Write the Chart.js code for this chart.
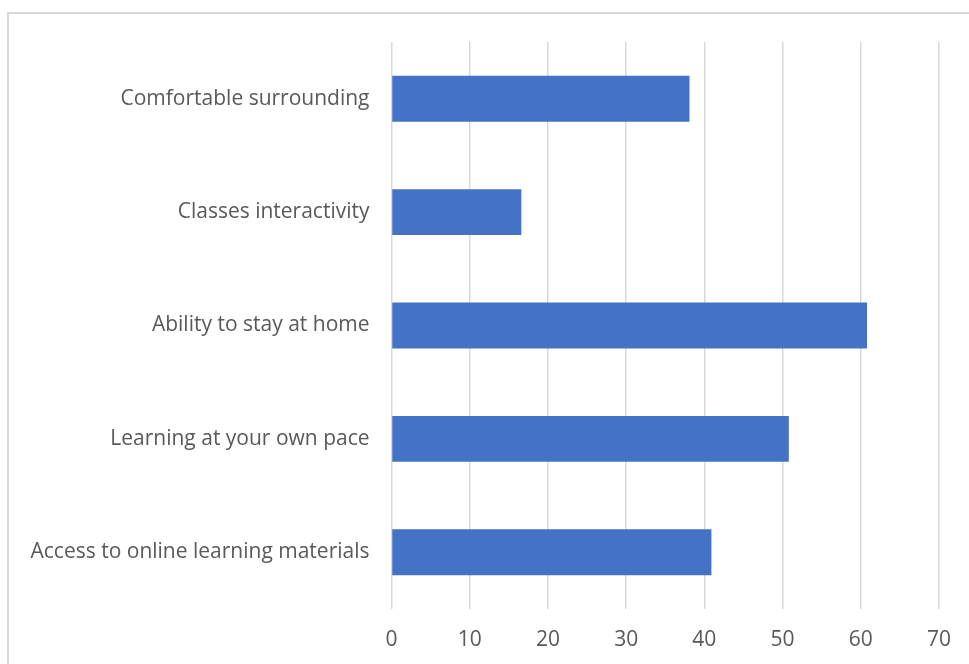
<!DOCTYPE html>
<html>
<head>
<meta charset="utf-8">
<script src="https://cdn.jsdelivr.net/npm/chart.js@4.4.1/dist/chart.umd.min.js"></script>
<style>
  html, body { margin: 0; padding: 0; background: #fff; }
  #wrap { position: absolute; left: 0; top: 0; width: 969px; height: 664px; }
  #frame { position: absolute; left: 7px; top: 12px; width: 962px; height: 652px;
           border-left: 2px solid #d9d9d9; border-top: 2px solid #d9d9d9; box-sizing: border-box; }
  canvas { position: absolute; left: 0; top: 0; }
</style>
</head>
<body>
<div id="wrap">
  <div id="frame"></div>
  <canvas id="c" width="969" height="664"></canvas>
</div>
<script>
// Reasons given for preferring online learning (%)
const categories = [
  "Comfortable surrounding",
  "Classes interactivity",
  "Ability to stay at home",
  "Learning at your own pace",
  "Access to online learning materials"
];
const values = [38.1, 16.6, 60.8, 50.8, 40.9];
const tickValues = [0, 10, 20, 30, 40, 50, 60, 70];

const FONT = "'Open Sans', sans-serif";
const TEXT = "#595959";

new Chart(document.getElementById("c"), {
  type: "bar",
  data: {
    labels: categories,
    datasets: [{
      data: values,
      backgroundColor: "#4472C4",
      borderWidth: 0,
      barPercentage: 0.405,
      categoryPercentage: 1.0
    }]
  },
  options: {
    indexAxis: "y",
    responsive: false,
    animation: false,
    layout: { padding: { top: 42, right: 28, bottom: 0, left: 0 } },
    plugins: { legend: { display: false }, tooltip: { enabled: false } },
    scales: {
      x: {
        min: tickValues[0],
        max: tickValues[tickValues.length - 1],
        afterBuildTicks: (axis) => { axis.ticks = tickValues.map(v => ({ value: v })); },
        afterFit: (axis) => { axis.height = 55; },
        grid: { color: "#d9d9d9", lineWidth: 1.5, drawTicks: false },
        border: { display: false },
        ticks: { color: TEXT, font: { family: FONT, size: 21 }, padding: 18 }
      },
      y: {
        afterFit: (axis) => { axis.width = 391.5; },
        grid: { display: false, drawTicks: false },
        border: { display: false },
        ticks: { color: TEXT, font: { family: FONT, size: 21 }, padding: 22 }
      }
    }
  }
});
</script>
</body>
</html>
